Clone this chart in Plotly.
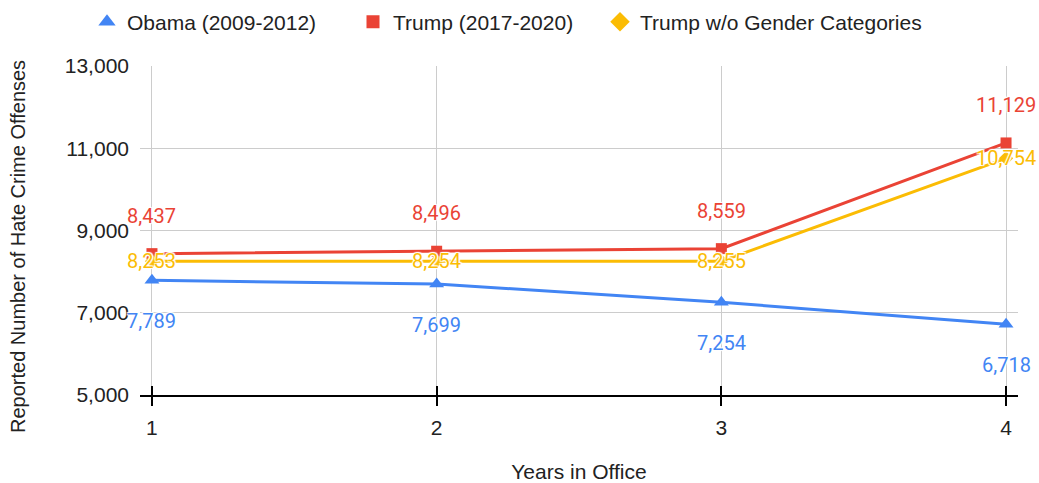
import plotly.graph_objects as go

years = [1, 2, 3, 4]
obama = [7789, 7699, 7254, 6718]
trump = [8437, 8496, 8559, 11129]
trump_wo = [8253, 8254, 8255, 10754]

names = ["Obama (2009-2012)", "Trump (2017-2020)", "Trump w/o Gender Categories"]
colors = ["#4285F4", "#EA4335", "#FBBC04"]
symbols = ["triangle-up", "square", "diamond"]
msizes = [13, 11, 11]
leg_sizes = [15, 13, 15]
label_shift = [-41, 38, 0]
series = [obama, trump, trump_wo]

# legend marker centre positions (px) -> paper x of each legend box
W_L, PLOT_W = 140, 878
leg_px = [107, 373, 620]
leg_ids = ["legend", "legend2", "legend3"]

fig = go.Figure()
for name, vals, c, s, ms in zip(names, series, colors, symbols, msizes):
    fig.add_trace(go.Scatter(
        x=years, y=vals, name=name, mode="lines+markers", showlegend=False,
        line=dict(color=c, width=3),
        marker=dict(symbol=s, size=ms, color=c),
    ))
for name, c, s, ls, lid in zip(names, colors, symbols, leg_sizes, leg_ids):
    fig.add_trace(go.Scatter(
        x=[None], y=[None], name=name, mode="markers", legend=lid,
        marker=dict(symbol=s, size=ls, color=c),
    ))
fig.add_trace(go.Scatter(x=[None], y=[None], xaxis="x2", showlegend=False, hoverinfo="skip"))

annotations = []
for vals, c, sh in zip(series, colors, label_shift):
    for xv, yv in zip(years, vals):
        annotations.append(dict(
            x=xv, y=yv, xref="x", yref="y", text=f"{yv:,}", showarrow=False,
            yshift=sh, font=dict(family="Roboto", size=20, color=c,
                                 shadow="1px 1px 1px white, -1px -1px 1px white, 1px -1px 1px white, -1px 1px 1px white"),
        ))
annotations.append(dict(
    text="Reported Number of Hate Crime Offenses", xref="paper", yref="paper",
    x=(18 - W_L) / PLOT_W, y=(395 - 247) / 329, textangle=-90, showarrow=False,
    font=dict(size=20, color="#222222"), xanchor="center", yanchor="middle",
))

legend_common = dict(orientation="h", yref="container", y=1 - 22 / 483, yanchor="middle",
                     xanchor="left", font=dict(size=21, color="#222222"),
                     itemwidth=30, bgcolor="rgba(0,0,0,0)")
legends = {}
for lid, px in zip(leg_ids, leg_px):
    legends[lid] = dict(legend_common, x=(px - 20 - W_L) / PLOT_W)

fig.update_layout(
    width=1039, height=483,
    margin=dict(l=140, r=21, t=66, b=88, autoexpand=False),
    paper_bgcolor="white", plot_bgcolor="white",
    font=dict(family="Liberation Sans, Arial", size=21, color="#222222"),
    showlegend=True,
    annotations=annotations,
    xaxis=dict(
        range=[0.958, 4.042], tickvals=years, ticktext=[str(v) for v in years],
        showgrid=True, gridcolor="#CCCCCC", gridwidth=1,
        showline=True, linecolor="#000000", linewidth=1.5,
        ticks="outside", ticklen=9, tickcolor="#000000", tickwidth=1.5,
        ticklabelstandoff=4, automargin=False,
        zeroline=False,
        title=dict(text="Years in Office", standoff=30, font=dict(size=21)),
        tickfont=dict(size=21, color="#222222"),
    ),
    xaxis2=dict(
        range=[0.958, 4.042], tickvals=years, overlaying="x", side="bottom",
        showticklabels=False, showgrid=False, showline=False,
        ticks="inside", ticklen=9, tickcolor="#000000", tickwidth=1.5,
        zeroline=False, automargin=False,
    ),
    yaxis=dict(
        range=[5000, 13000], tickvals=[5000, 7000, 9000, 11000, 13000],
        tickformat=",d",
        showgrid=True, gridcolor="#CCCCCC", gridwidth=1,
        zeroline=False, showline=False, automargin=False,
        ticklabelstandoff=10,
        tickfont=dict(size=21, color="#222222"),
    ),
    **legends,
)

fig.write_html("out.html")
